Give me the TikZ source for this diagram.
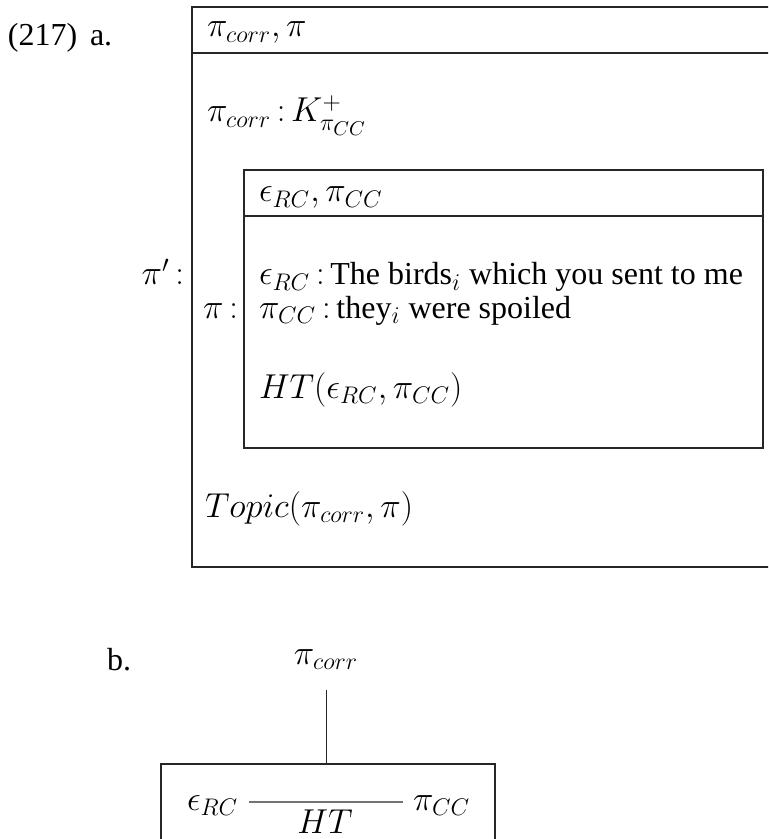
\documentclass[tikz,border=0pt]{standalone}
\usepackage{fontspec}
\setmainfont{Liberation Serif}
\DeclareMathSizes{16}{16.8}{13}{9.8}
\usetikzlibrary{calc}
\newcommand{\cln}{\,{:}\,}
\newcommand{\lcln}{\,{:}}
\begin{document}
\begin{tikzpicture}[x=0.5pt,y=-0.5pt,
  every node/.style={inner sep=0pt,outer sep=0pt,font=\fontsize{16}{19}\selectfont},
  txt/.style={anchor=base west},
  rtxt/.style={anchor=base east},
  ctxt/.style={anchor=base},
  frame/.style={draw=black!85,line width=0.65pt},
  edge/.style={draw=black!55,line width=0.65pt},
  stem/.style={draw=black!85,line width=0.5pt}]
\useasboundingbox (0,0) rectangle (768,839);
\clip (0,0) rectangle (768,839);

% --- (a) nested boxes ---
\node[txt] (num) at (8,46) {(217)};
\node[txt] (a) at (90,46) {a.};

% outer box pi'
\draw[frame] (192,7) rectangle (800,567);
\draw[frame] (192,53) -- (800,53);
\node[txt] (oh) at (207,37) {$\pi_{corr},\pi$};
\node[txt] (k) at (207,122) {$\pi_{corr}\cln K^{+}_{\pi_{CC}}$};
\node[rtxt] (pp) at (184,285) {$\pi'\lcln$};

% inner box pi
\draw[frame] (244,170) rectangle (763,448);
\draw[frame] (244,216) -- (763,216);
\node[txt] (ih) at (259,202) {$\epsilon_{RC},\pi_{CC}$};
\node[rtxt] (p) at (238,318) {$\pi\lcln$};
\node[txt] (l1) at (259,285) {$\epsilon_{RC}\cln$The birds$_i$ which you sent to me};
\node[txt] (l2) at (259,318) {$\pi_{CC}\cln$they$_i$ were spoiled};
\node[txt] (ht) at (259,398) {$HT(\epsilon_{RC},\pi_{CC})$};

\node[txt] (topic) at (205,517) {$Topic(\pi_{corr},\pi)$};

% --- (b) graph ---
\node[txt] (b) at (107,670) {b.};
\node[ctxt] (pc) at (326,664) {$\pi_{corr}$};
\coordinate (stemtop) at (326,690);
\coordinate (boxtop) at (326,764);
\draw[frame] (161,900) -- (161,764) -- (495,764) -- (495,900);
\draw[stem] (stemtop) -- (boxtop);
\node[txt] (erc) at (187,810) {$\epsilon_{RC}$};
\node[txt] (pcc) at (413,810) {$\pi_{CC}$};
\draw[edge] ($(erc.base east)+(11,-8)$) -- ($(pcc.base west)+(-10,-8)$);
\node[ctxt] (htl) at (325,833) {$HT$};
\end{tikzpicture}
\end{document}
